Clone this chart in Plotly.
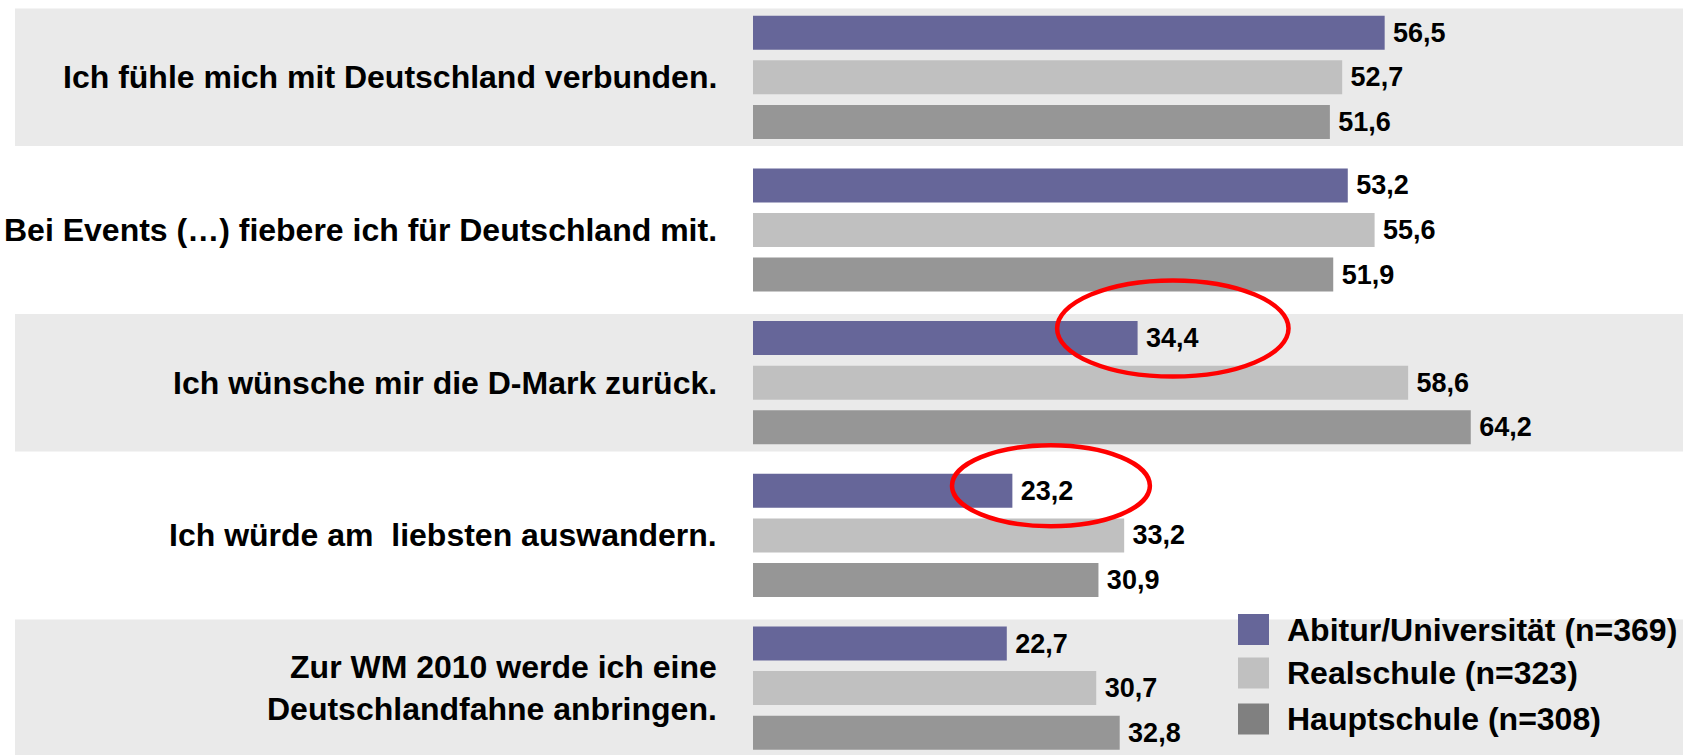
import plotly.graph_objects as go

# Aussagen (Kategorien)
statements = [
    "Ich fühle mich mit Deutschland verbunden.",
    "Bei Events (…) fiebere ich für Deutschland mit.",
    "Ich wünsche mir die D-Mark zurück.",
    "Ich würde am  liebsten auswandern.",
    "Zur WM 2010 werde ich eine<br>Deutschlandfahne anbringen.",
]

series_names = ["Abitur/Universität (n=369)", "Realschule (n=323)", "Hauptschule (n=308)"]
abitur = [56.5, 53.2, 34.4, 23.2, 22.7]
realschule = [52.7, 55.6, 58.6, 33.2, 30.7]
hauptschule = [51.6, 51.9, 64.2, 30.9, 32.8]

bar_colors = ["#666699", "#C0C0C0", "#969696"]
legend_colors = ["#666699", "#C0C0C0", "#808080"]

FONT = "Liberation Sans, Arial, sans-serif"
W, H = 1683, 755

fig = go.Figure()

for name, vals, col in zip(series_names, [abitur, realschule, hauptschule], bar_colors):
    fig.add_trace(go.Bar(
        y=statements,
        x=vals,
        orientation="h",
        name=name,
        marker=dict(color=col, line=dict(width=0)),
        texttemplate="\u2009%{x:.1f}",
        textposition="outside",
        constraintext="none",
        cliponaxis=False,
        textfont=dict(family=FONT, size=27, color="black", weight="bold"),
        showlegend=False,
    ))

# graue Hintergrundbänder (jede zweite Aussage)
shapes = []
for i in range(0, len(statements), 2):
    shapes.append(dict(
        type="rect", xref="paper", yref="y",
        x0=15 / W, x1=1, y0=i - 0.45, y1=i + 0.45,
        fillcolor="#EAEAEA", line=dict(width=0), layer="below",
    ))

# rote Markierungen
for x0, x1, y0, y1 in [(27.2, 47.9, 1.33, 1.96), (17.8, 35.5, 2.41, 2.94)]:
    shapes.append(dict(
        type="circle", xref="x", yref="y",
        x0=x0, x1=x1, y0=y0, y1=y1,
        line=dict(color="#FF0000", width=4.5), layer="above",
    ))

annotations = []
for i, s in enumerate(statements):
    annotations.append(dict(
        text=s, xref="paper", yref="y", x=719 / W, y=i,
        xanchor="right", yanchor="middle", align="right", showarrow=False,
        font=dict(family=FONT, size=32, color="black", weight="bold"),
    ))

# Legende von Hand (größere Symbole)
legend_rows = [629.5, 673, 719]
for name, col, yp in zip(series_names, legend_colors, legend_rows):
    shapes.append(dict(
        type="rect", xref="paper", yref="paper",
        x0=1238 / W, x1=1269 / W, y0=1 - (yp - 15.5) / H, y1=1 - (yp + 15.5) / H,
        fillcolor=col, line=dict(width=0),
    ))
    annotations.append(dict(
        text=name, xref="paper", yref="paper", x=1285 / W, y=1 - yp / H,
        xanchor="left", yanchor="middle", showarrow=False,
        font=dict(family=FONT, size=32, color="black", weight="bold"),
    ))

k = 11.18     # px per unit
x_zero = 753  # px position of value 0
slot = 152.7  # px per category
c0 = 77.3     # px centre of first category

fig.update_layout(
    width=W, height=H,
    margin=dict(l=0, r=0, t=0, b=0),
    barmode="group",
    bargap=0.124,
    bargroupgap=0.238,
    separators=",.",
    paper_bgcolor="white",
    plot_bgcolor="white",
    shapes=shapes,
    annotations=annotations,
    xaxis=dict(range=[-x_zero / k, (W - x_zero) / k], visible=False),
    yaxis=dict(range=[(H - c0) / slot, -c0 / slot], visible=False),
)

fig.write_html(
    "out.html",
    config={"displayModeBar": False},
    post_script="document.body.style.margin='0';document.body.style.overflow='hidden';",
)
